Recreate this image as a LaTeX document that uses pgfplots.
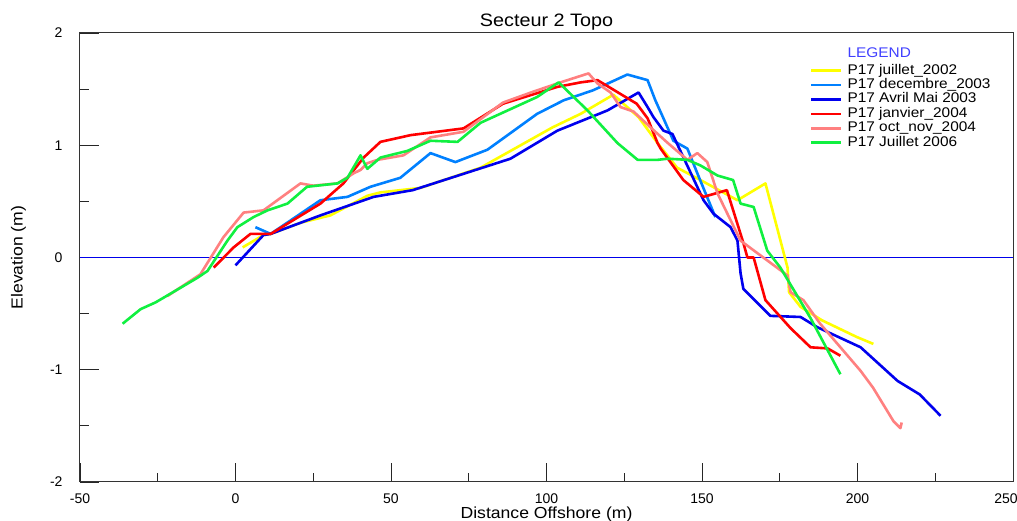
\documentclass[border=0pt]{standalone}
\usepackage{fontspec}
\setmainfont{Liberation Sans}
\newfontfamily\widesans[FakeStretch=1.1]{Liberation Sans}
\usepackage{pgfplots}
\pgfplotsset{compat=1.18}

\definecolor{cjuil02}{RGB}{255,255,0}
\definecolor{cdec03}{RGB}{0,128,255}
\definecolor{cavr03}{RGB}{0,0,238}
\definecolor{cjan04}{RGB}{255,0,0}
\definecolor{coct04}{RGB}{255,128,128}
\definecolor{cjuil06}{RGB}{16,240,64}
\definecolor{zeroline}{RGB}{0,0,235}
\definecolor{legtitle}{RGB}{64,64,255}

\begin{document}
\begin{tikzpicture}
\begin{axis}[
  name=ax,
  scale only axis,
  width=933pt, height=449pt,
  xmin=-50, xmax=250, ymin=-2, ymax=2,
  xtick={-50,0,...,250}, minor xtick={-25,25,...,225},
  xticklabels={-50,0,50,100,150,200,\hspace*{-14pt}250},
  ytick={-2,-1,...,2}, minor ytick={-1.5,-0.5,0.5,1.5},
  xtick pos=bottom, ytick pos=left, tick align=inside,
  major tick length=19pt, minor tick length=9pt,
  tick style={black!85, line width=0.9pt},
  axis line style={black!80, line width=1pt},
  /pgf/number format/assume math mode=true,
  ticklabel style={font=\fontsize{14}{16}\selectfont},
  xticklabel style={yshift=-8pt},
  yticklabel style={xshift=-14pt},
  title={Secteur 2 Topo},
  title style={font=\widesans\fontsize{18}{20}\selectfont, at={(axis description cs:0.5,1.029)}, anchor=center, yshift=-8pt},
  xlabel={Distance Offshore (m)},
  xlabel style={font=\widesans\fontsize{16}{18}\selectfont, at={(axis description cs:0.5,-0.071)}, anchor=center},
  ylabel={Elevation (m)},
  ylabel style={font=\widesans\fontsize{16}{18}\selectfont, at={(axis description cs:-0.066,0.5)}, anchor=center},
  every axis plot/.append style={line width=2.6pt, line join=round},
  legend image code/.code={\draw[#1] (0pt,0pt) -- (30pt,0pt); \path (34pt,0pt);},
  legend cell align=left,
  legend style={draw=none, fill=none, inner sep=0pt,
    at={(axis description cs:0.7824,0.9645)}, anchor=north west,
    font=\widesans\fontsize{14}{15}\selectfont,
    nodes={inner sep=0.8pt, text height=9.8pt, text depth=3pt},
    row sep=0pt},
]

% reference level
\addplot[color=zeroline, line width=1.1pt, forget plot] coordinates {(-50,0) (250,0)};

\addlegendimage{empty legend}
\addlegendentry{\raisebox{2pt}{\textcolor{legtitle}{LEGEND}}}

% P17 juillet 2002
\addplot[cjuil02] coordinates {
(2.3,0.09) (9,0.20) (11.3,0.21) (21,0.31) (30.5,0.375) (42.4,0.55)
(46.6,0.58) (59.5,0.62) (78.8,0.80) (102,1.16) (111,1.28) (121.5,1.45)
(129.6,1.25) (135.7,1.02) (142,0.80) (149.5,0.69) (161.4,0.51) (170.4,0.66)
(177.5,-0.09) (178,-0.31) (181.7,-0.44) (188.6,-0.56) (199.9,-0.71) (205.1,-0.77)
};
\addlegendentry{P17 juillet\_2002}

% P17 decembre 2003
\addplot[cdec03] coordinates {
(6.4,0.27) (11.3,0.21) (27.3,0.51) (36,0.54) (43.4,0.63) (53,0.71)
(62.7,0.93) (70.7,0.85) (81,0.96) (97,1.28) (105.5,1.40) (115,1.49)
(126,1.63) (132.5,1.58) (135,1.40) (137.6,1.24) (140.8,1.04) (145.3,0.97)
(148.5,0.75) (154.3,0.36)
};
\addlegendentry{P17 decembre\_2003}

% P17 avril-mai 2003
\addplot[cavr03] coordinates {
(0,-0.07) (9,0.20) (11.3,0.21) (27.3,0.375) (44.4,0.54) (57,0.60)
(88.4,0.88) (103.5,1.13) (119.6,1.31) (129.6,1.47) (132.5,1.34) (134.4,1.25)
(137.6,1.13) (140.5,1.10) (150.5,0.51) (153.7,0.39) (159.2,0.27) (161.4,0.15)
(162.4,-0.14) (163.3,-0.28) (172,-0.52) (181.7,-0.53) (187,-0.62) (201,-0.80)
(212.9,-1.10) (220,-1.22) (226.7,-1.41)
};
\addlegendentry{P17 Avril Mai 2003}

% P17 janvier 2004
\addplot[cjan04] coordinates {
(-7,-0.09) (-0.6,0.09) (4.8,0.21) (11.3,0.21) (27.3,0.48) (34.7,0.66)
(41.2,0.89) (46.6,1.03) (56.3,1.09) (73.3,1.15) (86,1.37) (103.5,1.52)
(111,1.56) (116.4,1.58) (129,1.37) (132.5,1.24) (135.7,1.02) (136.7,0.97)
(144,0.69) (150.5,0.54) (158,0.60) (163.3,0.13) (164.6,0.0) (166.6,0.0)
(170.4,-0.38) (178.5,-0.63) (184.9,-0.80) (190.4,-0.81) (194.5,-0.875)
};
\addlegendentry{P17 janvier\_2004}

% P17 oct-nov 2004
\addplot[coct04] coordinates {
(-22,-0.345) (-11.3,-0.15) (-3.9,0.18) (2.6,0.40) (9,0.42) (20.9,0.66)
(25,0.64) (32.8,0.66) (38,0.75) (40.2,0.78) (42.4,0.84) (45.7,0.87)
(54,0.91) (62.7,1.07) (73.3,1.12) (86,1.38) (95,1.47) (104.5,1.56)
(113.5,1.64) (116.4,1.55) (120.6,1.47) (123.8,1.34) (128,1.30) (133.4,1.16)
(139,1.02) (145.3,0.87) (148.5,0.93) (151.7,0.85) (155,0.57) (162.4,0.15)
(177.5,-0.16) (178.5,-0.31) (182.6,-0.38) (188,-0.59) (201,-1.01) (205,-1.16)
(211.6,-1.46) (213.8,-1.52) (214.2,-1.47)
};
\addlegendentry{P17 oct\_nov\_2004}

% P17 juillet 2006
\addplot[cjuil06] coordinates {
(-36.3,-0.59) (-30.5,-0.46) (-25.7,-0.40) (-17.7,-0.27) (-12.2,-0.18) (-9,-0.12)
(-2.6,0.15) (0.6,0.27) (5.8,0.36) (10.3,0.42) (16.7,0.48) (23,0.63)
(32.8,0.66) (36,0.71) (40.2,0.91) (42.4,0.79) (46.6,0.89) (55.3,0.95)
(62.7,1.04) (71.4,1.03) (78.8,1.20) (97,1.43) (103.9,1.56) (113.2,1.31)
(122.8,1.02) (129.3,0.87) (135.7,0.87) (139,0.88) (145.3,0.87) (149.5,0.82)
(155,0.73) (160,0.69) (162.4,0.48) (166.6,0.45) (171,0.06) (175.2,-0.09)
(184.9,-0.54) (194.5,-1.04)
};
\addlegendentry{P17 Juillet 2006}

\end{axis}
\pgfresetboundingbox
\path[use as bounding box] (ax.south west) ++(-80pt,-39pt) rectangle ([shift={(4pt,33pt)}]ax.north east);
\end{tikzpicture}
\end{document}
